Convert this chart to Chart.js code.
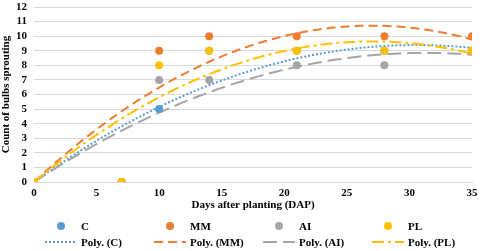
<!DOCTYPE html>
<html><head><meta charset="utf-8">
<script src="https://cdn.jsdelivr.net/npm/chart.js@4"></script>
<style>
html,body{margin:0;padding:0;background:#fff;}
#wrap{position:relative;width:480px;height:251px;}
canvas{position:absolute;left:0;top:0;}
.lg{position:absolute;font:bold 11px "Liberation Serif","Times New Roman",serif;color:#000;display:flex;align-items:center;white-space:nowrap;}
.lg svg{margin-right:4px;}
</style></head>
<body>
<div id="wrap"><canvas id="c" width="480" height="251"></canvas><div id="legend"></div></div>
<script>
// ---- data ----
const days = [0, 7, 10, 14, 21, 28, 35];
const C  = [0, 0, 5, 9, 9, 9, 9];
const MM = [0, 0, 9, 10, 10, 10, 10];
const AI = [0, 0, 7, 7, 8, 8, 9];
const PL = [0, 0, 8, 9, 9, 9, 9];
const seriesNames = ['C', 'MM', 'AI', 'PL'];
const xTickStep = 5, xMin = 0, xMax = 35;
const yTickStep = 1, yMin = 0, yMax = 12;
const xTitle = 'Days after planting (DAP)';
const yTitle = 'Count of bulbs sprouting';

// ---- styles ----
const colors = ['#5B9BD5', '#ED7D31', '#A5A5A5', '#FFC000'];
const dashes = [[2, 2], [9, 5], [14, 6], [12, 4, 3, 4]];
const seriesData = [C, MM, AI, PL];

// second-order polynomial trendline with intercept 0 (least squares)
function polyFit0(xs, ys) {
  let s2 = 0, s3 = 0, s4 = 0, sxy = 0, sx2y = 0;
  xs.forEach((x, i) => { const y = ys[i]; s2 += x*x; s3 += x*x*x; s4 += x*x*x*x; sxy += x*y; sx2y += x*x*y; });
  const det = s2*s4 - s3*s3;
  const b = (sxy*s4 - s3*sx2y) / det;
  const c = (s2*sx2y - s3*sxy) / det;
  return x => b*x + c*x*x;
}
function trendPoints(ys) {
  const f = polyFit0(days, ys);
  const pts = [];
  const lo = Math.min(...days), hi = Math.max(...days);
  for (let x = lo; x <= hi + 1e-9; x += 0.25) pts.push({x: x, y: f(x)});
  return pts;
}

const datasets = [];
seriesNames.forEach((n, i) => {
  datasets.push({
    label: n, data: days.map((d, j) => ({x: d, y: seriesData[i][j]})),
    showLine: false, pointRadius: 4, pointHoverRadius: 4,
    backgroundColor: colors[i], borderColor: colors[i], pointBorderWidth: 0,
    order: 10 - i
  });
});
seriesNames.forEach((n, i) => {
  datasets.push({
    label: 'Poly. (' + n + ')', data: trendPoints(seriesData[i]),
    showLine: true, pointRadius: 0, borderColor: colors[i], borderWidth: 2,
    borderDash: dashes[i], fill: false, tension: 0,
    order: 20 - i
  });
});

const serif = '"Liberation Serif","Times New Roman",serif';
new Chart(document.getElementById('c'), {
  type: 'scatter',
  data: {datasets},
  options: {
    responsive: false, animation: false,
    layout: {padding: {left: 0, right: 8, top: 7, bottom: 39}},
    plugins: {legend: {display: false}, tooltip: {enabled: false}},
    scales: {
      x: {
        type: 'linear', min: xMin, max: xMax,
        ticks: {stepSize: xTickStep, padding: 5, autoSkip: false, maxRotation: 0, color: '#000', font: {family: serif, size: 11, weight: 'bold'}},
        grid: {display: false, drawTicks: false},
        border: {display: true, color: '#D9D9D9', width: 1},
        title: {display: true, text: xTitle, color: '#000', font: {family: serif, size: 11, weight: 'bold'}, padding: {top: 0, bottom: 0}},
        afterFit: s => { s.height = 30; s.paddingLeft = 0; s.paddingRight = 0; }
      },
      y: {
        min: yMin, max: yMax,
        ticks: {stepSize: yTickStep, padding: 7, autoSkip: false, color: '#000', font: {family: serif, size: 11, weight: 'bold'}},
        grid: {color: '#D9D9D9', drawTicks: false},
        border: {display: false},
        title: {display: true, text: yTitle, color: '#000', font: {family: serif, size: 11, weight: 'bold'}, padding: {top: 0, bottom: 0}},
        afterFit: s => { s.width = 34; s.paddingTop = 0; s.paddingBottom = 0; }
      }
    }
  }
});

// ---- legend (HTML) ----
const legend = document.getElementById('legend');
seriesNames.forEach((n, i) => {
  const left = 45 + 109 * i;
  const r1 = document.createElement('div');
  r1.className = 'lg'; r1.style.left = left + 'px'; r1.style.top = '219px';
  r1.innerHTML = '<svg width="32" height="14"><circle cx="16" cy="7" r="4" fill="' + colors[i] + '"/></svg>' + n;
  legend.appendChild(r1);
  const r2 = document.createElement('div');
  r2.className = 'lg'; r2.style.left = left + 'px'; r2.style.top = '235px';
  r2.innerHTML = '<svg width="32" height="14"><line x1="0" y1="7" x2="32" y2="7" stroke="' + colors[i] + '" stroke-width="2" stroke-dasharray="' + dashes[i].join(',') + '"/></svg>Poly. (' + n + ')';
  legend.appendChild(r2);
});
</script>
</body></html>
